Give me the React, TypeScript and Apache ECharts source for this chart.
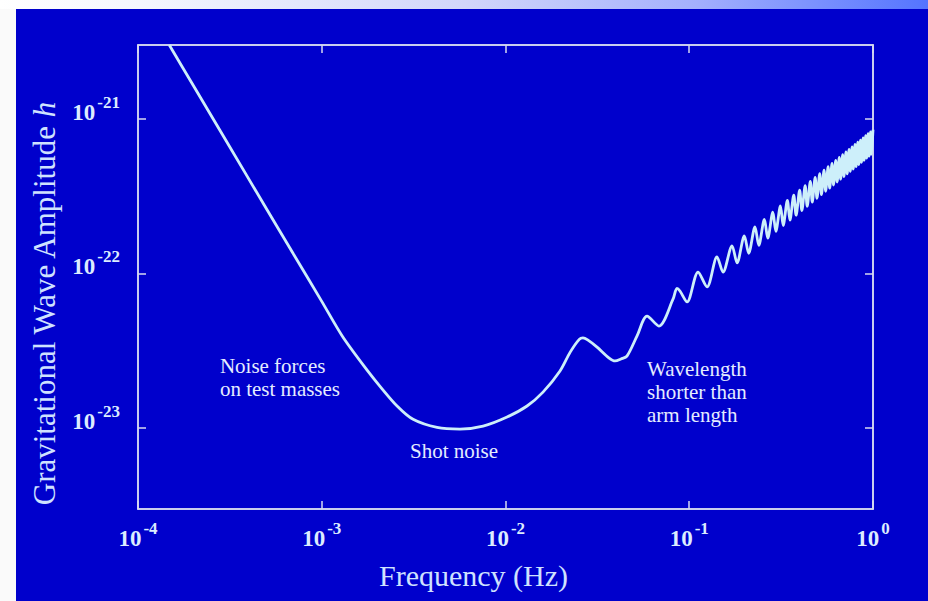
import React, { useEffect, useRef } from "react";
import * as echarts from "echarts";

// Strain sensitivity of the detector: frequency (Hz) and amplitude h.
const frequencyHz: number[] = [
  1.48e-4, 2e-4, 3e-4, 5e-4, 7e-4, 1e-3, 1.3e-3, 1.8e-3, 2.07e-3, 2.57e-3,
  3.14e-3, 4.24e-3, 5.65e-3, 7.55e-3, 1.02e-2, 1.31e-2, 1.6e-2, 1.98e-2, 2.25e-2, 2.52e-2,
  2.64e-2, 2.8e-2, 3.15e-2, 3.65e-2, 3.95e-2, 4.25e-2, 4.58e-2, 5.2e-2, 5.89e-2, 6.84e-2,
  8.17e-2, 8.57e-2, 8.9e-2, 9.73e-2, 0.1117, 0.125, 0.1416, 0.1527, 0.171, 0.182,
  0.1995, 0.2105, 0.228, 0.239, 0.2565, 0.2675, 0.285, 0.296, 0.3135, 0.3245,
  0.342, 0.353, 0.3705, 0.3815, 0.399, 0.41, 0.4275, 0.4385, 0.456, 0.467,
  0.4845, 0.4955, 0.513, 0.524, 0.5415, 0.5525, 0.57, 0.581, 0.5985, 0.6095,
  0.627, 0.638, 0.6555, 0.6665, 0.684, 0.695, 0.7125, 0.7235, 0.741, 0.752,
  0.7695, 0.7805, 0.798, 0.809, 0.8265, 0.8375, 0.855, 0.866, 0.8835, 0.8945,
  0.912, 0.923, 0.9405, 0.9515, 0.969, 0.98, 1.0,
];

const strainAmplitude: number[] = [
  3.0e-21, 1.64e-21, 7.3e-22, 2.62e-22, 1.34e-22, 6.6e-23, 3.9e-23, 2.3e-23, 1.87e-23, 1.39e-23,
  1.14e-23, 1.01e-23, 9.85e-24, 1.03e-23, 1.18e-23, 1.39e-23, 1.71e-23, 2.34e-23, 3.1e-23, 3.75e-23,
  3.83e-23, 3.72e-23, 3.34e-23, 2.85e-23, 2.72e-23, 2.8e-23, 2.92e-23, 3.95e-23, 5.3e-23, 4.57e-23,
  6.84e-23, 8.0e-23, 7.7e-23, 6.55e-23, 1.02e-22, 8.18e-23, 1.28e-22, 1.02e-22, 1.51e-22, 1.17e-22,
  1.75e-22, 1.35e-22, 2.0e-22, 1.52e-22, 2.24e-22, 1.69e-22, 2.49e-22, 1.87e-22, 2.73e-22, 2.04e-22,
  2.97e-22, 2.21e-22, 3.21e-22, 2.38e-22, 3.46e-22, 2.55e-22, 3.7e-22, 2.72e-22, 3.94e-22, 2.89e-22,
  4.18e-22, 3.06e-22, 4.42e-22, 3.23e-22, 4.66e-22, 3.4e-22, 4.9e-22, 3.56e-22, 5.14e-22, 3.73e-22,
  5.38e-22, 3.9e-22, 5.62e-22, 4.07e-22, 5.86e-22, 4.23e-22, 6.1e-22, 4.4e-22, 6.34e-22, 4.57e-22,
  6.58e-22, 4.73e-22, 6.82e-22, 4.9e-22, 7.06e-22, 5.06e-22, 7.29e-22, 5.23e-22, 7.53e-22, 5.39e-22,
  7.77e-22, 5.56e-22, 8.01e-22, 5.72e-22, 8.24e-22, 5.89e-22, 8.5e-22,
];

// Text notes placed at (frequency, amplitude) of their top-left corner.
const noteTexts: string[] = ["Noise forces\non test masses", "Shot noise", "Wavelength\nshorter than\narm length"];
const noteFrequency: number[] = [2.79e-4, 3.02e-3, 5.89e-2];
const noteAmplitude: number[] = [3.0e-23, 8.5e-24, 2.88e-23];

const xTitle = "Frequency (Hz)";
const yTitle = "Gravitational Wave Amplitude {i|h}";

const freqRange: [number, number] = [1e-4, 1];
const ampRange: [number, number] = [3e-24, 3e-21];

const SERIF = '"Liberation Serif", "Times New Roman", Times, serif';
const BG = "#0000cc";
const FRAME = "#d6daf0";
const TICK_TEXT = "#dcecff";
const TITLE_TEXT = "#cfe2ff";
const NOTE_TEXT = "#e4ecff";
const CURVE = "#cdeffa";

const GRID = { left: 138, right: 55, top: 45, bottom: 92 };

const powerLabel = (v: number): string => {
  const e = Math.log10(v);
  const r = Math.round(e);
  if (Math.abs(e - r) > 0.01) return "";
  return `{b|10}{s|${r}}`;
};

const labelRich = {
  b: {
    fontFamily: SERIF,
    fontWeight: "bold",
    fontSize: 23,
    color: TICK_TEXT,
    lineHeight: 30,
    verticalAlign: "bottom",
  },
  s: {
    fontFamily: SERIF,
    fontWeight: "bold",
    fontSize: 17,
    color: TICK_TEXT,
    lineHeight: 16,
    verticalAlign: "top",
    padding: [0, 0, 0, 2],
  },
};

export default function App() {
  const ref = useRef<HTMLDivElement>(null);

  useEffect(() => {
    document.body.style.margin = "0";
    if (!ref.current) return;
    const chart = echarts.init(ref.current, undefined, { renderer: "svg" });

    const curve = frequencyHz.map((f, i) => [f, strainAmplitude[i]]);

    const tickStyle = { show: true, inside: true, length: 8, lineStyle: { color: FRAME, width: 1.5 } };
    const axisLine = { show: true, onZero: false, lineStyle: { color: FRAME, width: 1.5 } };

    chart.setOption({
      animation: false,
      backgroundColor: BG,
      grid: {
        show: true,
        ...GRID,
        containLabel: false,
        outerBoundsMode: "none",
        backgroundColor: "transparent",
        borderColor: FRAME,
        borderWidth: 1.5,
      },
      xAxis: [
        {
          type: "log",
          logBase: 10,
          min: freqRange[0],
          max: freqRange[1],
          position: "bottom",
          axisLine,
          axisTick: tickStyle,
          splitLine: { show: false },
          axisLabel: {
            show: true,
            margin: 11,
            formatter: powerLabel,
            rich: labelRich,
          },
          name: xTitle,
          nameLocation: "middle",
          nameGap: 51,
          nameTextStyle: {
            fontFamily: SERIF,
            fontSize: 30,
            color: TITLE_TEXT,
            padding: [0, 64, 0, 0],
          },
        },
        {
          type: "log",
          logBase: 10,
          min: freqRange[0],
          max: freqRange[1],
          position: "top",
          axisLine,
          axisTick: tickStyle,
          splitLine: { show: false },
          axisLabel: { show: false },
        },
      ],
      yAxis: [
        {
          type: "log",
          logBase: 10,
          min: ampRange[0],
          max: ampRange[1],
          position: "left",
          axisLine,
          axisTick: tickStyle,
          splitLine: { show: false },
          axisLabel: {
            show: true,
            margin: 18,
            formatter: powerLabel,
            rich: labelRich,
            padding: [0, 0, 20, 0],
            showMinLabel: false,
            showMaxLabel: false,
          },
        },
        {
          type: "log",
          logBase: 10,
          min: ampRange[0],
          max: ampRange[1],
          position: "right",
          axisLine,
          axisTick: tickStyle,
          splitLine: { show: false },
          axisLabel: { show: false },
        },
      ],
      series: [
        {
          type: "line",
          xAxisIndex: 0,
          yAxisIndex: 0,
          data: curve,
          showSymbol: false,
          smooth: 0.3,
          clip: true,
          lineStyle: { color: CURVE, width: 2.8 },
          z: 3,
        },
      ],
    });

    const toPx = (f: number, h: number) =>
      chart.convertToPixel({ xAxisIndex: 0, yAxisIndex: 0 }, [f, h]) as number[];

    const notes = noteTexts.map((text, i) => {
      const [px, py] = toPx(noteFrequency[i], noteAmplitude[i]);
      return {
        type: "text",
        x: px,
        y: py,
        z: 10,
        style: {
          text,
          fill: NOTE_TEXT,
          fontFamily: SERIF,
          fontSize: 21,
          lineHeight: 23,
          align: "left",
          verticalAlign: "top",
        },
      };
    });

    // Vertical axis title, centred a little below the middle of the plot.
    const [plotLeft, plotBottom] = toPx(freqRange[0], ampRange[0]);
    const [, plotTop] = toPx(freqRange[0], ampRange[1]);

    chart.setOption({
      graphic: [
        {
          type: "rect",
          shape: { x: 0, y: 0, width: 16, height: 601 },
          style: { fill: "#fafafa" },
          z: 20,
        },
        {
          type: "rect",
          shape: { x: 0, y: 0, width: 928, height: 9 },
          style: {
            fill: new echarts.graphic.LinearGradient(0, 0, 1, 0, [
              { offset: 0, color: "#ffffff" },
              { offset: 0.15, color: "#f5f7fe" },
              { offset: 0.5, color: "#d2d6fa" },
              { offset: 0.75, color: "#a4b0fd" },
              { offset: 1, color: "#5474ff" },
            ]),
          },
          z: 20,
        },
        {
          type: "text",
          x: plotLeft - 94,
          y: (plotTop + plotBottom) / 2 + 27,
          rotation: Math.PI / 2,
          z: 10,
          style: {
            text: yTitle,
            fill: TITLE_TEXT,
            fontFamily: SERIF,
            fontSize: 31,
            align: "center",
            verticalAlign: "middle",
            rich: {
              i: { fontFamily: SERIF, fontSize: 31, fontStyle: "italic", fill: TITLE_TEXT },
            },
          },
        },
        ...notes,
      ],
    });

    return () => {
      chart.dispose();
    };
  }, []);

  return (
    <div
      ref={ref}
      style={{ position: "absolute", left: 0, top: 0, width: 928, height: 601 }}
    />
  );
}
